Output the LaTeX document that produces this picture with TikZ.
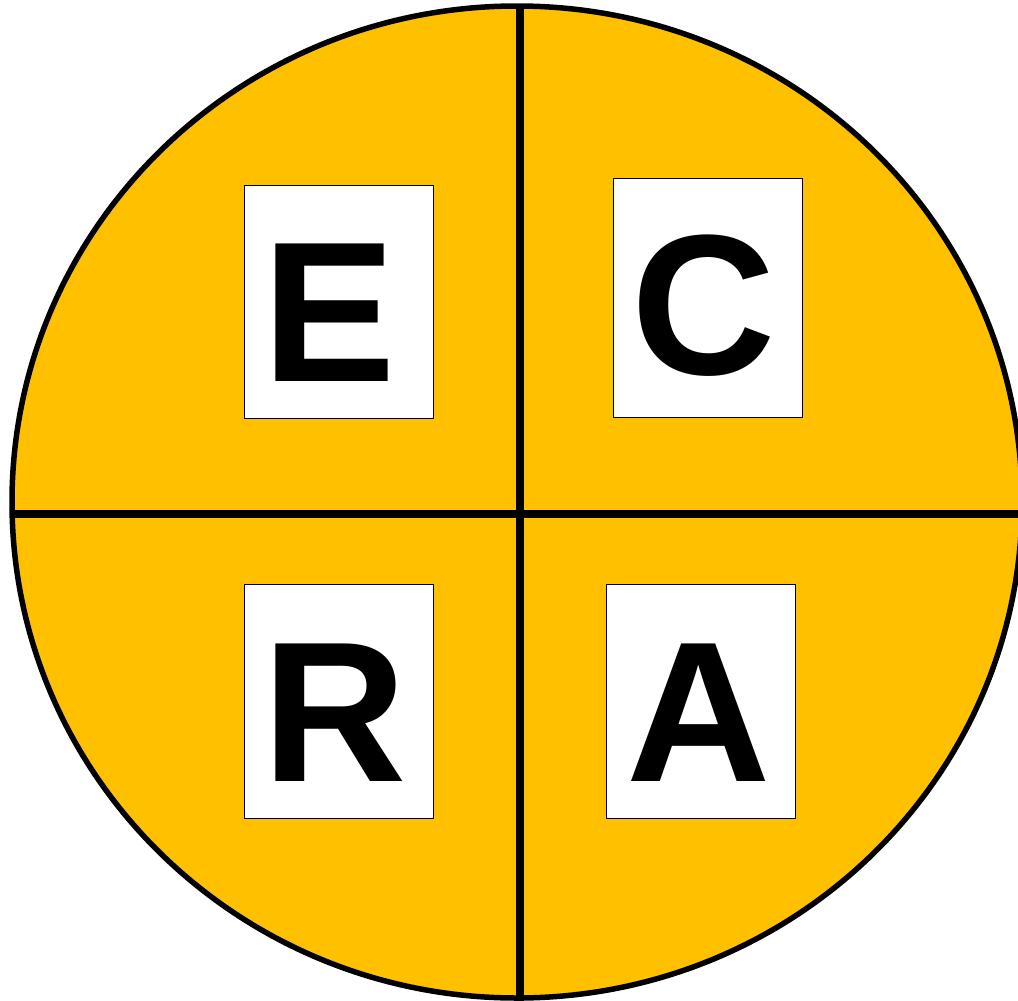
\documentclass[tikz,border=0pt]{standalone}
\usepackage{fontspec}
\setmainfont{Liberation Sans}
\definecolor{gold}{HTML}{FFC000}
\begin{document}
\begin{tikzpicture}[x=1pt,y=-1pt,
  card/.style={draw=black,line width=0.8pt,fill=white},
  letter/.style={anchor=base west,inner sep=0pt,font=\fontsize{200}{200}\selectfont\bfseries}]
\useasboundingbox (0,0) rectangle (1018,1001);
\clip (0,0) rectangle (1018,1001);
\draw[fill=gold,line width=5.5pt] (517,502) ellipse [x radius=505, y radius=496];
\coordinate (vt) at (520,6);
\coordinate (vb) at (520,1001);
\coordinate (hl) at (12,514);
\coordinate (hr) at (1018,514);
\draw[line width=7.5pt] (vt) -- (vb);
\draw[line width=7.5pt] (hl) -- (hr);
\draw[card] (244,185) rectangle (433,418);
\draw[card] (613,178) rectangle (802,417);
\draw[card] (244,584) rectangle (433,818);
\draw[card] (606,584) rectangle (795,818);
\node[letter] (E) at (262.7,381) {E};
\node[letter] (C) at (631.5,374.5) {C};
\node[letter] (R) at (262.7,781) {R};
\node[letter] (A) at (626,781) {A};
\end{tikzpicture}
\end{document}
